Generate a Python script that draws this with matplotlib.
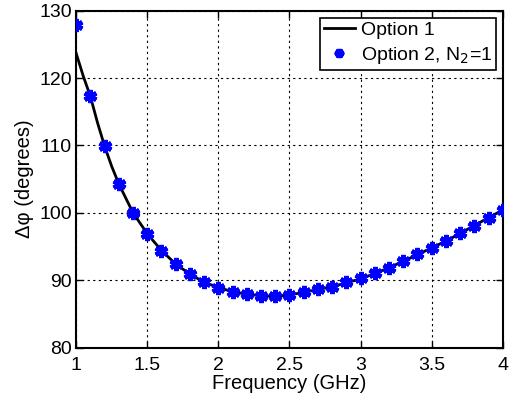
import numpy as np
import matplotlib.pyplot as plt

# data
freq_line = [1.0, 1.05, 1.1, 1.15, 1.2, 1.25, 1.3, 1.4, 1.5, 1.6, 1.7, 1.8, 1.9, 2.0,
             2.1, 2.2, 2.3, 2.4, 2.5, 2.6, 2.7, 2.8, 2.9, 3.0, 3.1, 3.2, 3.3, 3.4,
             3.5, 3.6, 3.7, 3.8, 3.9, 4.0]
phase_line = [123.7, 120.3, 117.3, 113.4, 109.9, 106.9, 104.3, 100.0, 96.9, 94.4, 92.4,
              90.9, 89.7, 88.9, 88.3, 87.9, 87.7, 87.6, 87.8, 88.2, 88.6, 89.05, 89.6,
              90.2, 91.0, 91.85, 92.8, 93.8, 94.8, 95.8, 96.95, 98.1, 99.3, 100.4]

freq_pts = [1.0, 1.1, 1.2, 1.3, 1.4, 1.5, 1.6, 1.7, 1.8, 1.9, 2.0, 2.1, 2.2, 2.3, 2.4,
            2.5, 2.6, 2.7, 2.8, 2.9, 3.0, 3.1, 3.2, 3.3, 3.4, 3.5, 3.6, 3.7, 3.8, 3.9, 4.0]
phase_pts = [127.9, 117.4, 109.9, 104.3, 100.0, 96.9, 94.35, 92.4, 90.9, 89.7, 88.9,
             88.3, 87.9, 87.6, 87.6, 87.8, 88.25, 88.65, 89.05, 89.7, 90.25, 91.05,
             91.85, 92.85, 93.85, 94.85, 95.85, 96.95, 98.1, 99.3, 100.4]

xticks = [1, 1.5, 2, 2.5, 3, 3.5, 4]
xticklabels = ['1', '1.5', '2', '2.5', '3', '3.5', '4']
yticks = [80, 90, 100, 110, 120, 130]

plt.rcParams['font.family'] = ['Liberation Sans', 'DejaVu Sans']

fig = plt.figure(figsize=(5.11, 3.99), dpi=100)
ax = fig.add_axes([0.149, 0.129, 0.835, 0.844])

ax.plot(freq_line, phase_line, color='black', lw=2, label='Option 1', zorder=3)
ax.plot(freq_pts, phase_pts, ls='none', marker=(6, 2, 0), ms=9.5, mew=3.2,
        color='blue', label='Option 2, N$_2$=1', zorder=4)

ax.set_xlim(1, 4)
ax.set_ylim(80, 130)
ax.set_xticks(xticks)
ax.set_xticklabels(xticklabels)
ax.set_yticks(yticks)
ax.tick_params(direction='in', length=5, width=1, labelsize=14,
               top=True, right=True)
ax.tick_params(axis='x', pad=7)
ax.tick_params(axis='y', pad=3)
ax.grid(True, color='black', ls=(0, (2, 3)), lw=0.8)
for s in ax.spines.values():
    s.set_linewidth(1.5)

ax.set_xlabel('Frequency (GHz)', fontsize=14.5, labelpad=0)
ax.set_ylabel('Δφ (degrees)', fontsize=14.5, labelpad=4)

leg = ax.legend(loc='upper right', fontsize=14, fancybox=False, framealpha=1,
                edgecolor='black', borderpad=0.2, labelspacing=0.3,
                handlelength=1.6, handletextpad=0.3, borderaxespad=0.35,
                markerscale=0.7)
leg.get_frame().set_linewidth(1.2)

fig.savefig('out.png', dpi=100)
